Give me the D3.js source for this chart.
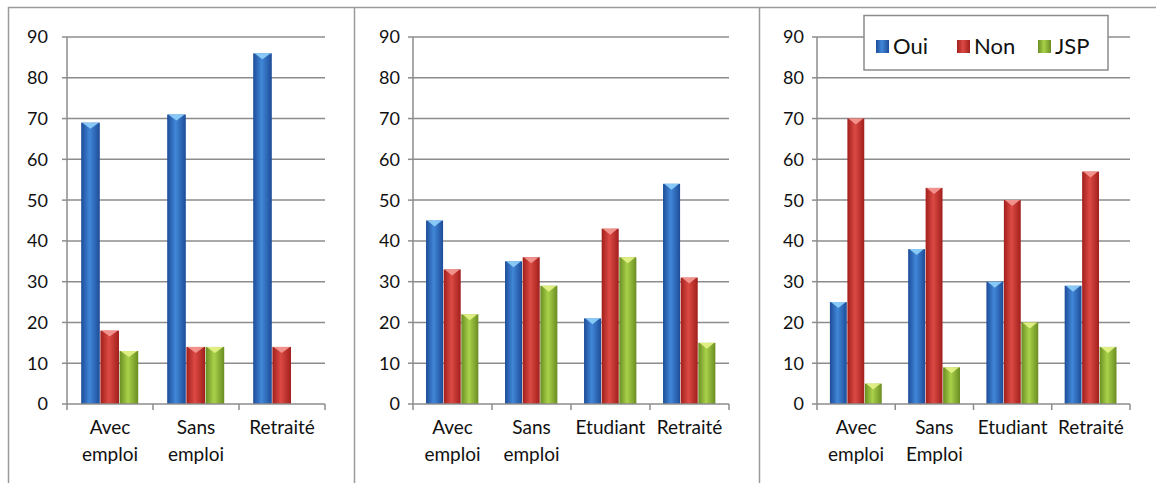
<!DOCTYPE html>
<html><head><meta charset="utf-8">
<script src="https://cdn.jsdelivr.net/npm/d3@7"></script>
<style>body{margin:0;background:#fff}svg{display:block}text{font-family:Lato,"Open Sans",sans-serif;fill:#111}</style>
</head><body><svg id="c" width="1156" height="483"></svg>
<script>
const seriesNames = ["Oui", "Non", "JSP"];
const yTicks = [0, 10, 20, 30, 40, 50, 60, 70, 80, 90];

const categories1 = ["Avec\nemploi", "Sans\nemploi", "Retraité"];
const oui1 = [69, 71, 86];
const non1 = [18, 14, 14];
const jsp1 = [13, 14, 0];

const categories2 = ["Avec\nemploi", "Sans\nemploi", "Etudiant", "Retraité"];
const oui2 = [45, 35, 21, 54];
const non2 = [33, 36, 43, 31];
const jsp2 = [22, 29, 36, 15];

const categories3 = ["Avec\nemploi", "Sans\nEmploi", "Etudiant", "Retraité"];
const oui3 = [25, 38, 30, 29];
const non3 = [70, 53, 50, 57];
const jsp3 = [5, 9, 20, 14];

const svg = d3.select("#c");
const defs = svg.append("defs");
const pal = {
  Oui: {edge: "#1d4c98", mid: "#4187d8", top: "#8fd0fb"},
  Non: {edge: "#a11f1c", mid: "#dc4a44", top: "#f59a95"},
  JSP: {edge: "#6a8d22", mid: "#a9d24a", top: "#e6f38a"}
};
seriesNames.forEach(s => {
  const g = defs.append("linearGradient").attr("id", "g" + s).attr("x1", 0).attr("x2", 1).attr("y1", 0).attr("y2", 0);
  g.append("stop").attr("offset", 0).attr("stop-color", pal[s].edge);
  g.append("stop").attr("offset", 0.45).attr("stop-color", pal[s].mid);
  g.append("stop").attr("offset", 1).attr("stop-color", pal[s].edge);
});

const frame = svg.append("g").attr("stroke", "#9a9a9a").attr("stroke-width", 1.5).attr("fill", "none");
frame.append("line").attr("x1", 8).attr("x2", 1156).attr("y1", 7.5).attr("y2", 7.5);
[8.5, 354.5, 759.5].forEach(x => frame.append("line").attr("x1", x).attr("x2", x).attr("y1", 7).attr("y2", 483));

const y = d3.scaleLinear().domain([0, 90]).range([404, 37]);

function panel(x0, x1, cats, vals, labelRight) {
  const g = svg.append("g");
  const xb = d3.scaleBand().domain(cats).range([x0, x1]).padding(0);
  const inner = d3.scaleBand().domain(seriesNames).range([xb.bandwidth() * 0.165, xb.bandwidth() * 0.835]).padding(0);
  g.selectAll(".grid").data(yTicks.filter(t => t > 0)).join("line")
    .attr("x1", x0).attr("x2", x1).attr("y1", d => y(d)).attr("y2", d => y(d))
    .attr("stroke", "#8c8c8c").attr("stroke-width", 1.5);
  g.selectAll(".yt").data(yTicks).join("line")
    .attr("x1", x0 - 5).attr("x2", x0).attr("y1", d => y(d)).attr("y2", d => y(d))
    .attr("stroke", "#8c8c8c").attr("stroke-width", 1.5);
  g.selectAll(".yl").data(yTicks).join("text")
    .attr("x", labelRight).attr("y", d => y(d)).attr("dy", "0.36em")
    .attr("text-anchor", "end").attr("font-size", 18).text(d => d);
  cats.forEach((c, i) => {
    seriesNames.forEach((s, k) => {
      const v = vals[k][i];
      if (!v) return;
      const bx = xb(c) + inner(s), bw = inner.bandwidth() - 0.6, by = y(v);
      g.append("rect").attr("x", bx).attr("y", by).attr("width", bw).attr("height", y(0) - by)
        .attr("fill", `url(#g${s})`);
      g.append("path").attr("d", `M${bx+1},${by} L${bx+bw-1},${by} L${bx+bw/2},${by+6} Z`)
        .attr("fill", pal[s].top).attr("opacity", 0.9);
    });
  });
  g.append("line").attr("x1", x0).attr("x2", x0).attr("y1", y(90)).attr("y2", y(0))
    .attr("stroke", "#8c8c8c").attr("stroke-width", 1.5);
  g.append("line").attr("x1", x0).attr("x2", x1).attr("y1", y(0)).attr("y2", y(0))
    .attr("stroke", "#8c8c8c").attr("stroke-width", 1.5);
  const bounds = cats.map(c => xb(c)).concat([x1]);
  g.selectAll(".xt").data(bounds).join("line")
    .attr("x1", d => d).attr("x2", d => d).attr("y1", y(0)).attr("y2", y(0) + 6)
    .attr("stroke", "#8c8c8c").attr("stroke-width", 1.5);
  cats.forEach(c => {
    const cx = xb(c) + xb.bandwidth() / 2;
    const t = g.append("text").attr("x", cx).attr("y", 434)
      .attr("text-anchor", "middle").attr("font-size", 19);
    c.split("\n").forEach((ln, j) => t.append("tspan").attr("x", cx).attr("dy", j ? 27 : 0).text(ln));
  });
  return g;
}

panel(67, 325, categories1, [oui1, non1, jsp1], 48);
panel(413, 729, categories2, [oui2, non2, jsp2], 400);
panel(817, 1130, categories3, [oui3, non3, jsp3], 804);

const lg = svg.append("g");
lg.append("rect").attr("x", 864).attr("y", 15.5).attr("width", 244).attr("height", 54.5)
  .attr("fill", "#fff").attr("stroke", "#8c8c8c").attr("stroke-width", 1.5);
const legX = d3.scalePoint().domain(seriesNames).range([876, 1038]);
seriesNames.forEach(s => {
  const lx = legX(s);
  lg.append("rect").attr("x", lx).attr("y", 40).attr("width", 13).attr("height", 13).attr("fill", `url(#g${s})`);
  lg.append("text").attr("x", lx + 17).attr("y", 46).attr("dy", "0.36em").attr("font-size", 22).text(s);
});
</script></body></html>
